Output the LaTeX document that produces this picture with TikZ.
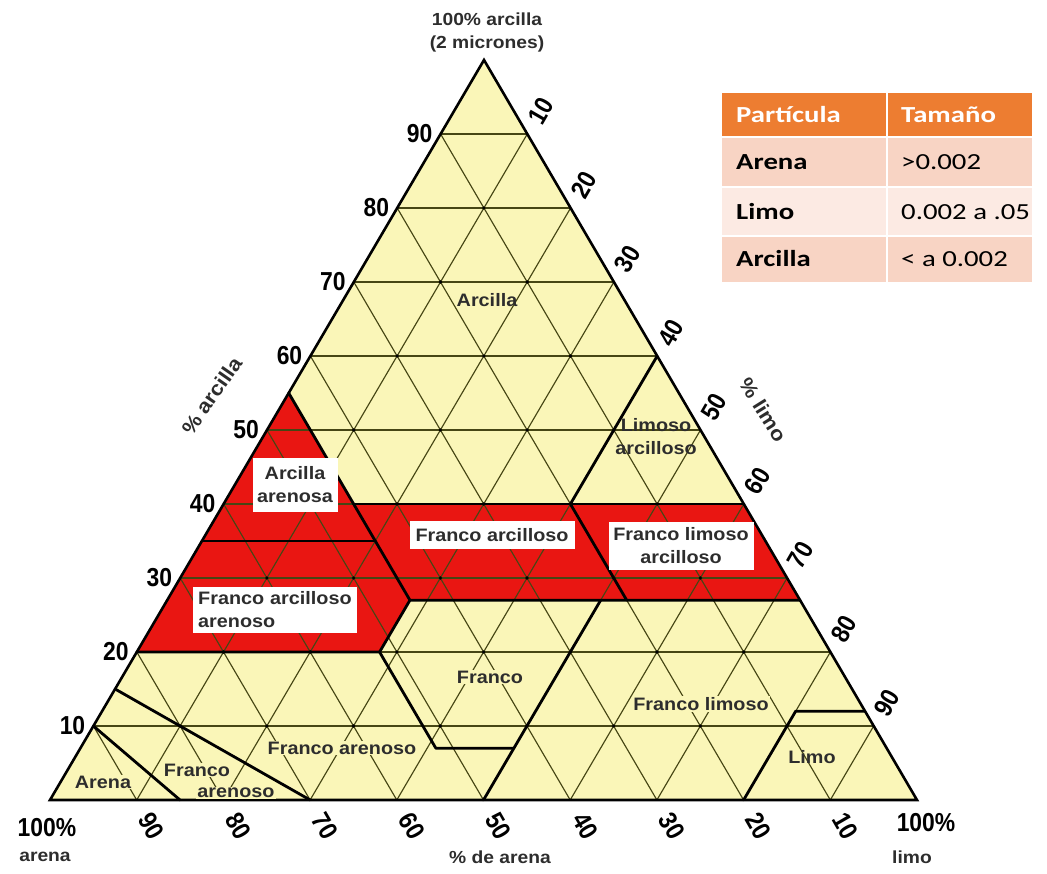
\documentclass[tikz,border=0pt]{standalone}
\usepackage{fontspec}
\setmainfont{Liberation Sans}
\newfontfamily\labf[FakeStretch=1.1]{Liberation Sans}
\newfontfamily\numf[FakeStretch=0.88]{Liberation Sans}
\newfontfamily\tabf[FakeStretch=1.25]{Carlito}
\definecolor{yelf}{RGB}{250,246,184}
\definecolor{redf}{RGB}{233,22,18}
\definecolor{gridc}{RGB}{70,70,20}
\definecolor{labc}{RGB}{45,45,45}
\definecolor{tabh}{RGB}{237,125,49}
\definecolor{tabA}{RGB}{248,212,196}
\definecolor{tabB}{RGB}{252,234,227}
\tikzset{
  gridl/.style={draw=gridc, line width=1.15pt},
  bnd/.style={draw=black, line width=2.8pt, line join=round, line cap=round},
  rlab/.style={font=\labf\bfseries\fontsize{18}{23}\selectfont, text=labc, align=center, inner sep=1pt},
  boxlab/.style={rlab, fill=white, inner sep=4pt},
  ylab/.style={rlab, fill=yelf, inner sep=1pt},
  numl/.style={font=\numf\bfseries\fontsize{26}{26}\selectfont, inner sep=0pt},
  axl/.style={font=\labf\bfseries\fontsize{17.5}{23}\selectfont, text=labc, inner sep=0pt, align=center},
  axlbig/.style={font=\labf\bfseries\fontsize{20}{23}\selectfont, text=labc, inner sep=0pt},
  tabhd/.style={font=\tabf\bfseries\fontsize{23}{23}\selectfont, text=white, anchor=west, inner sep=0pt},
  tabb/.style={font=\tabf\bfseries\fontsize{23}{23}\selectfont, text=black, anchor=west, inner sep=0pt},
  tabr/.style={font=\tabf\fontsize{23}{23}\selectfont, text=black, anchor=west, inner sep=0pt},
}
\begin{document}
\begin{tikzpicture}[x=1pt,y=-1pt]
\useasboundingbox (0,0) rectangle (1047,874);
\fill[white] (0,0) rectangle (1047,874);

\begin{scope}[x={(8.67pt,0pt)}, y={(4.34pt,7.4pt)}, shift={(50pt,-800pt)}]
  % fills
  \fill[yelf] (0,0) -- (100,0) -- (0,100) -- cycle;
  \fill[redf] (0,35) -- (20,35) -- (0,55) -- cycle;
  \fill[redf] (0,20) -- (28,20) -- (28,27) -- (20,35) -- (0,35) -- cycle;
  \fill[redf] (28,27) -- (53,27) -- (40,40) -- (15,40) -- cycle;
  \fill[redf] (53,27) -- (73,27) -- (60,40) -- (40,40) -- cycle;
  % grid
  \foreach \k in {10,20,...,90} {
    \draw[gridl] (0,\k) -- ({100-\k},\k);
    \draw[gridl] (\k,0) -- (\k,{100-\k});
    \draw[gridl] (\k,0) -- (0,\k);
  }
  \foreach \i in {1,...,8} {
    \foreach \j in {1,...,8} {
      \pgfmathtruncatemacro\tsum{\i+\j}
      \ifnum\tsum<10 \fill[black] ({10*\i},{10*\j}) circle[radius=1.8pt]; \fi
    }
  }
  % class boundaries
  \draw[bnd] (0,20) -- (28,20) -- (28,27) -- (73,27);
  \draw[bnd] (28,27) -- (0,55);
  \draw[bnd] (0,35) -- (20,35);
  \draw[bnd] (15,40) -- (60,40);
  \draw[bnd] (53,27) -- (40,40) -- (40,60);
  \draw[bnd] (28,20) -- (41,7) -- (50,7);
  \draw[bnd] (50,0) -- (50,27);
  \draw[bnd] (80,0) -- (80,12) -- (88,12);
  \draw[bnd] (30,0) -- (0,15);
  \draw[bnd] (15,0) -- (0,10);
  % outline
  \draw[line width=2.6pt, line join=miter] (0,0) -- (100,0) -- (0,100) -- cycle;
  % axis numbers
  \foreach \c in {10,20,...,90} {
    \node[numl, anchor=east, xshift=-8pt] (cl\c) at (0,\c) {\c};
  }
  \foreach \s in {10,20,...,90} {
    \node[numl, rotate=60, xshift=27pt] (sl\s) at (\s,{100-\s}) {\s};
  }
  \foreach \a in {90,80,...,10} {
    \node[numl, rotate=-60, xshift=30pt] (sa\a) at ({100-\a},0) {\a};
  }
\end{scope}

% axis titles
\node[axl] (top1) at (487,19) {100\% arcilla};
\node[axl] (top2) at (487,44) {(2 micrones)};
\node[axlbig, rotate=55] (pcla) at (212,396) {\% arcilla};
\node[axlbig, rotate=-58] (pslt) at (763,410) {\% limo};
\node[numl] (bl100) at (47,828) {100\%};
\node[axl] (blar) at (45,857) {arena};
\node[axl] (bmid) at (500,857) {\% de arena};
\node[numl] (br100) at (926,823) {100\%};
\node[axl] (brli) at (912,857) {limo};

% region labels
\node[rlab] (lArc) at (487,300) {Arcilla};
\node[rlab] (lLimArc) at (656,437) {Limoso\\arcilloso};
\node[boxlab, minimum width=85pt, minimum height=54pt] (lArcAr) at (295,485) {Arcilla\\arenosa};
\node[boxlab, minimum width=165pt, minimum height=28pt] (lFrArc) at (492,535) {Franco arcilloso};
\node[boxlab, minimum width=145pt, minimum height=48pt] (lFrLimArc) at (681,546) {Franco limoso\\arcilloso};
\node[boxlab, align=left, anchor=west, minimum width=164pt, minimum height=46pt, text width=154pt] (lFrArcAr) at (193,610) {Franco arcilloso\\arenoso};
\node[ylab] (lFr) at (490,677) {Franco};
\node[ylab] (lFrLim) at (701,704) {Franco limoso};
\node[rlab] (lLimo) at (812,757) {Limo};
\node[ylab] (lFrAr) at (342,748) {Franco arenoso};
\node[ylab] (lAre) at (103,782) {Arena};
\node[ylab] (lFrAr2a) at (197,770) {Franco};
\node[ylab] (lFrAr2b) at (236,793) {arenoso};

% table
\fill[tabh] (722,93) rectangle (1032,137);
\fill[tabA] (722,137) rectangle (1032,187);
\fill[tabB] (722,187) rectangle (1032,236);
\fill[tabA] (722,236) rectangle (1032,282);
\draw[white, line width=2.5pt] (722,137) -- (1032,137) (722,187) -- (1032,187) (722,236) -- (1032,236) (887,93) -- (887,282);
\node[tabhd] (th1) at (736,115) {Partícula};
\node[tabhd] (th2) at (901,115) {Tamaño};
\node[tabb] (t11) at (736,162) {Arena};
\node[tabr] (t12) at (901,162) {>0.002};
\node[tabb] (t21) at (736,212) {Limo};
\node[tabr] (t22) at (901,212) {0.002 a .05};
\node[tabb] (t31) at (736,259) {Arcilla};
\node[tabr] (t32) at (901,259) {< a 0.002};
\end{tikzpicture}
\end{document}
